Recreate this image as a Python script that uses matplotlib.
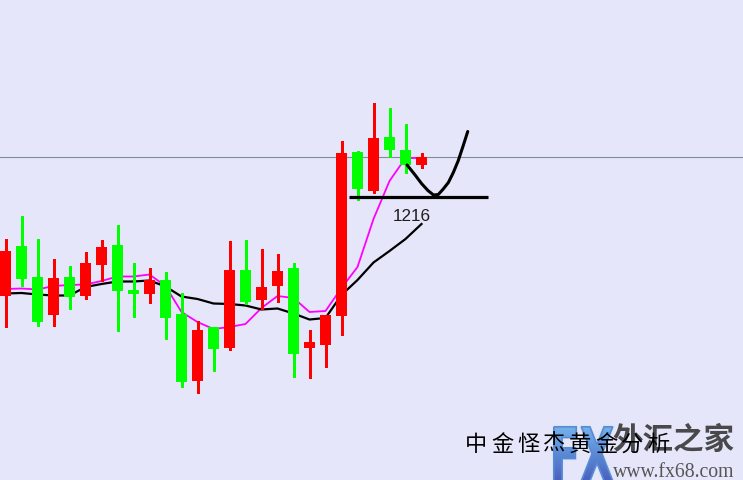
import numpy as np
import matplotlib
matplotlib.use("Agg")
import matplotlib.pyplot as plt
from matplotlib.textpath import TextPath
from matplotlib.patches import PathPatch
from matplotlib.font_manager import FontProperties
from matplotlib.transforms import Affine2D
from matplotlib.colors import LinearSegmentedColormap

# ---------------- data (price units) ----------------
opens = [1196.2, 1206.2, 1200.0, 1192.4, 1200.0, 1196.2, 1202.4, 1206.4, 1197.4, 1196.6,
         1199.4, 1192.6, 1179.2, 1190.0, 1185.8, 1201.4, 1195.4, 1198.2, 1201.8, 1185.8,
         1186.4, 1192.2, 1225.0, 1217.2, 1228.0, 1225.4, 1222.4]
closes = [1205.2, 1199.6, 1191.0, 1199.8, 1196.0, 1202.8, 1206.0, 1197.2, 1196.6, 1199.4,
          1191.8, 1179.0, 1189.4, 1185.6, 1201.4, 1195.0, 1198.0, 1201.2, 1184.6, 1187.0,
          1192.4, 1224.8, 1217.6, 1227.8, 1225.4, 1222.4, 1224.0]
highs = [1207.6, 1212.2, 1207.6, 1203.6, 1202.2, 1205.0, 1207.4, 1210.4, 1202.8, 1201.8,
         1201.0, 1196.8, 1191.2, 1190.0, 1207.2, 1207.4, 1205.6, 1204.6, 1202.8, 1189.4,
         1192.4, 1227.2, 1225.2, 1234.8, 1233.8, 1230.6, 1224.8]
lows = [1190.0, 1198.2, 1190.2, 1190.2, 1193.6, 1195.6, 1199.2, 1189.2, 1192.0, 1194.8,
        1187.6, 1178.0, 1176.8, 1181.2, 1185.4, 1194.6, 1193.6, 1195.0, 1180.0, 1179.8,
        1182.0, 1188.4, 1215.4, 1216.8, 1224.0, 1220.8, 1221.8]
ma5 = [1197.6, 1197.7, 1197.5, 1198.2, 1198.4, 1198.5, 1199.2, 1200.1, 1200.1, 1200.5,
       1198.2, 1193.0, 1191.0, 1189.6, 1190.0, 1190.6, 1193.8, 1196.2, 1195.8, 1193.0,
       1193.2, 1197.8, 1202.0, 1211.6, 1219.2, 1223.8, 1223.8]
ma10 = [1196.7, 1196.8, 1196.5, 1196.3, 1196.3, 1198.0, 1198.6, 1199.1, 1199.1, 1199.3,
        1198.1, 1196.1, 1195.6, 1194.7, 1194.6, 1194.3, 1193.5, 1193.7, 1192.7, 1191.5,
        1191.8, 1196.4, 1199.4, 1202.9, 1205.2, 1207.6, 1210.6]
current_price = 1224.0
support_level = 1216.0
support_label = "1216"
support_x = [21.47, 30.16]
# hand-drawn projection curve (bar index, price)
curve_x = [25.1, 25.6, 26.0, 26.4, 26.75, 27.05, 27.36, 27.68, 27.99, 28.3, 28.61, 28.89]
curve_y = [1222.4, 1220.4, 1218.7, 1217.3, 1216.4, 1216.5, 1217.6, 1218.9, 1220.9, 1223.3, 1226.3, 1229.1]

W, H = 743, 481
BG = "#e5e6f9"

fig = plt.figure(figsize=(W / 100, H / 100), dpi=100)
fig.patch.set_facecolor(BG)
ax = fig.add_axes([0, 0, 1, 1])
ax.set_facecolor(BG)
ax.set_xlim(-5.5 / 16, (W - 5.5) / 16)
ax.set_ylim(1255.6 - 0.2 * H, 1255.6)
ax.set_axis_off()

idx = np.arange(len(opens))
o = np.array(opens); c = np.array(closes)
cols = ["#ff0000" if cc >= oo else "#00ff00" for oo, cc in zip(o, c)]

# current price line
ax.axhline(current_price, color="#7f8c99", lw=0.8, zorder=1)

# moving averages (behind candles)
ax.plot(idx, ma5, color="#ff00ff", lw=1.3, zorder=2)
ax.plot(idx, ma10, color="#000000", lw=1.6, zorder=2)

# candles
ax.vlines(idx, lows, highs, colors=cols, lw=0.75, zorder=3, antialiased=False)
bh = np.abs(c - o)
bh = np.where(bh < 0.2, 0.2, bh)
ax.bar(idx, bh, bottom=np.minimum(o, c), width=11 / 16, color=cols,
       linewidth=0, zorder=4, antialiased=False)

# annotation: support line, label, curve
ax.plot(support_x, [support_level, support_level], color="black", lw=2.3,
        solid_capstyle="butt", zorder=6)
ax.text(24.22, 1211.4, support_label, fontsize=12.3, family="Liberation Sans",
        color="#1e1e1e", ha="left", va="baseline", zorder=6)
ax.plot(curve_x, curve_y, color="black", lw=2.2, solid_capstyle="round",
        solid_joinstyle="round", zorder=6)

# ---------------- watermark ----------------
def fx(px):
    return px / W

def fy(py):
    return 1 - py / H

# FX logo with gradient (drawn first, below the other watermark texts)
lx0, ly0, lw_, lh_ = 550, 424, 67, 60
lax = fig.add_axes([lx0 / W, 1 - (ly0 + lh_) / H, lw_ / W, lh_ / H])
lax.set_xlim(0, lw_); lax.set_ylim(0, lh_)
lax.set_axis_off()
lax.patch.set_alpha(0)
fp = FontProperties(family="DejaVu Sans", weight="bold")
tp = TextPath((0, 0), "FX", size=1, prop=fp)
bb = tp.get_extents()
bx0, bx1 = 553 - lx0 + 0.8, 614 - lx0 - 0.8
by_top = lh_ - (427 - ly0) - 0.8
by_bot = lh_ - (483 - ly0)
tr = Affine2D().translate(-bb.x0, -bb.y0).scale((bx1 - bx0) / bb.width,
                                                (by_top - by_bot) / bb.height).translate(bx0, by_bot)
path = tr.transform_path(tp)
lax.add_patch(PathPatch(path, facecolor="#5f8fd8", edgecolor="#dbe8f8", lw=2.6))
grad = np.linspace(0, 1, 100).reshape(-1, 1)
cmap = LinearSegmentedColormap.from_list("fx", ["#4a5fbd", "#5a8ad6", "#74b2ec"])
im = lax.imshow(grad, cmap=cmap, extent=(0, lw_, by_bot, by_top), origin="lower",
                aspect="auto", zorder=3)
clip = PathPatch(path, transform=lax.transData, facecolor="none", edgecolor="none")
lax.add_patch(clip)
im.set_clip_path(clip)
lax.add_patch(PathPatch(path, facecolor="none", edgecolor="#5b8ad4", lw=1.2, zorder=4))

cal = "中金怪杰黄金分析"
for k, ch in enumerate(cal):
    fig.text(fx(465 + 26 * k), fy(451), ch, fontsize=16,
             family=["Noto Sans CJK SC", "DejaVu Sans"], color="black",
             ha="left", va="baseline", zorder=7)

fig.text(fx(612), fy(449), "外汇之家", fontsize=22, weight="bold",
         family=["Noto Sans CJK SC", "DejaVu Sans"], color="#2e2e2e", alpha=0.85,
         ha="left", va="baseline", zorder=6)
fig.text(fx(613), fy(477), "www.fx68.com", fontsize=14.2, family="Liberation Serif",
         color="#555555", ha="left", va="baseline", zorder=8)

fig.savefig("out.png", dpi=100, facecolor=BG)
